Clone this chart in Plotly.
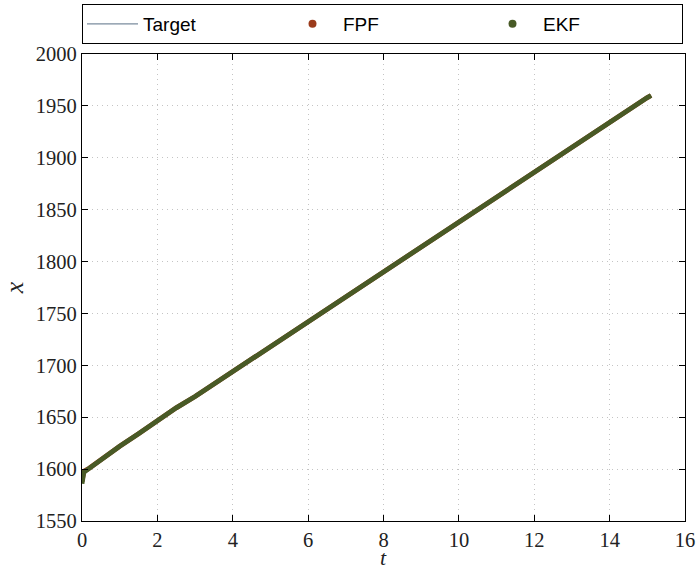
import plotly.graph_objects as go

t = [0, 0.05, 0.2, 0.5, 1, 1.5, 2, 2.5, 3, 3.5, 4, 4.5, 5, 5.5, 6, 6.5, 7, 7.5, 8,
     8.5, 9, 9.5, 10, 10.5, 11, 11.5, 12, 12.5, 13, 13.5, 14, 14.5, 15, 15.1]
target = [1597, 1598, 1601, 1609, 1622, 1634, 1647, 1658, 1670, 1682, 1694, 1707, 1719,
          1731, 1743, 1755, 1767, 1779, 1790, 1802, 1814, 1826, 1838, 1850, 1862, 1874,
          1886, 1898, 1910, 1922, 1934, 1946, 1958, 1960]
fpf = [1588, 1598, 1601, 1609, 1622, 1634, 1647, 1659, 1670, 1682, 1694, 1707, 1719,
       1731, 1743, 1755, 1767, 1779, 1790, 1802, 1814, 1826, 1838, 1850, 1862, 1874,
       1886, 1898, 1910, 1922, 1934, 1946, 1958, 1960]
ekf = [1586, 1597, 1601, 1609, 1622, 1634, 1647, 1659, 1670, 1682, 1694, 1707, 1719,
       1731, 1743, 1755, 1767, 1779, 1790, 1802, 1814, 1826, 1838, 1850, 1862, 1874,
       1886, 1898, 1910, 1922, 1934, 1946, 1958, 1960]

x_ticks = list(range(0, 17, 2))
y_ticks = list(range(1550, 2001, 50))

C_TARGET = "#7b8c9e"
C_FPF = "#9b3b1b"
C_EKF = "#485a26"

fig = go.Figure()
fig.add_trace(go.Scatter(x=t, y=target, mode="lines", name="Target",
                         line=dict(color=C_TARGET, width=1.2)))
# dense point estimates, drawn as thick traces
fig.add_trace(go.Scatter(x=t, y=fpf, mode="lines", showlegend=False, legendgroup="fpf",
                         line=dict(color=C_FPF, width=4.8), hoverinfo="skip"))
fig.add_trace(go.Scatter(x=t, y=ekf, mode="lines", showlegend=False, legendgroup="ekf",
                         line=dict(color=C_EKF, width=4.8), hoverinfo="skip"))
# legend entries (dot symbols)
fig.add_trace(go.Scatter(x=[None], y=[None], mode="markers", name="FPF", legendgroup="fpf",
                         marker=dict(color=C_FPF, size=8, line=dict(width=0))))
fig.add_trace(go.Scatter(x=[None], y=[None], mode="markers", name="EKF", legendgroup="ekf",
                         marker=dict(color=C_EKF, size=8, line=dict(width=0))))

axis_common = dict(
    showline=True, linecolor="black", linewidth=1.2, mirror="ticks",
    ticks="inside", ticklen=6, tickwidth=1, tickcolor="black",
    showgrid=True, gridcolor="#c4c4c4", gridwidth=1, griddash="1px,4px",
    zeroline=False,
    tickfont=dict(family="Liberation Serif, DejaVu Serif, serif", size=20.5, color="#222"),
)

fig.update_xaxes(range=[0, 16], tickvals=x_ticks, **axis_common)
fig.update_yaxes(range=[1550, 2000], tickvals=y_ticks,
                 title=dict(text="<i>x</i>", standoff=6,
                            font=dict(family="Liberation Serif, serif", size=26, color="#222")),
                 **axis_common)

fig.add_annotation(text="<i>t</i>", xref="paper", yref="paper", x=0.5, y=-0.106,
                   xanchor="center", yanchor="bottom", showarrow=False, borderpad=0,
                   font=dict(family="Liberation Serif, serif", size=22, color="#222"))

fig.update_layout(
    width=697, height=571,
    margin=dict(l=82, r=12, t=54, b=50, autoexpand=False),
    paper_bgcolor="white", plot_bgcolor="white",
    showlegend=True,
    legend=dict(orientation="h", x=0, xanchor="left", y=1.0 + 10 / 467, yanchor="bottom",
                yref="paper", entrywidth=134, entrywidthmode="pixels", itemwidth=51,
                bordercolor="black", borderwidth=1, bgcolor="white",
                font=dict(family="Liberation Sans, Arial, sans-serif", size=19, color="black"),
                tracegroupgap=0),
)

fig.write_html("out.html")
